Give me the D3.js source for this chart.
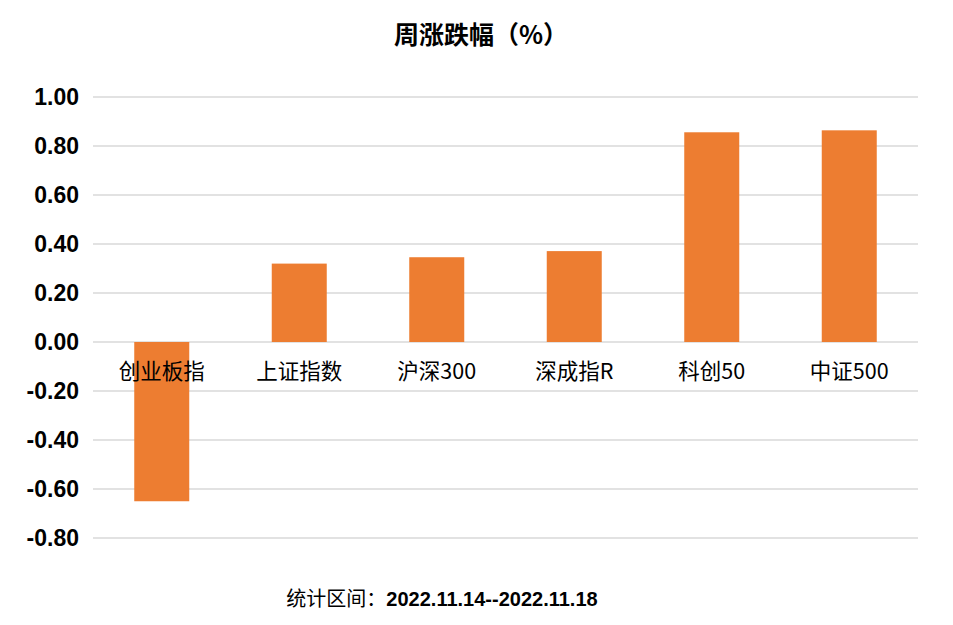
<!DOCTYPE html>
<html>
<head>
<meta charset="utf-8">
<script src="https://cdn.jsdelivr.net/npm/d3@7"></script>
<style>
  body { margin: 0; background: #fff; }
  svg { display: block; }
</style>
</head>
<body>
<svg id="chart"></svg>
<script>
const categories = ['创业板指', '上证指数', '沪深300', '深成指R', '科创50', '中证500'];
const weeklyChange = [-0.65, 0.32, 0.346, 0.371, 0.856, 0.864];
const yTicks = [-0.8, -0.6, -0.4, -0.2, 0, 0.2, 0.4, 0.6, 0.8, 1.0];
const chartTitle = '周涨跌幅（%）';
const periodLabel = '统计区间：';
const periodRange = '2022.11.14--2022.11.18';

const W = 953, H = 625;
const margin = { top: 97, right: 35, bottom: 87, left: 93 };
const width = W - margin.left - margin.right;
const height = H - margin.top - margin.bottom;

const svg = d3.select('#chart').attr('width', W).attr('height', H);
const g = svg.append('g').attr('transform', `translate(${margin.left},${margin.top})`);

const x = d3.scaleBand().domain(categories).range([0, width]).paddingInner(0.6).paddingOuter(0.3);
const y = d3.scaleLinear().domain([-0.8, 1.0]).range([height, 0]);

// gridlines
g.selectAll('line.grid')
  .data(yTicks)
  .enter().append('line')
  .attr('class', 'grid')
  .attr('x1', 0).attr('x2', width)
  .attr('y1', d => y(d)).attr('y2', d => y(d))
  .attr('stroke', '#d9d9d9').attr('stroke-width', 1.5);

// y axis labels (plain hyphen for negatives, like the source)
const fmt = d3.format('.2f');
const yAxis = d3.axisLeft(y).tickValues(yTicks)
  .tickFormat(d => fmt(d).replace('\u2212', '-'))
  .tickSize(0).tickPadding(14);
g.append('g').call(yAxis)
  .call(a => a.select('.domain').remove())
  .selectAll('text')
  .attr('font-family', '"Liberation Sans", Arial, sans-serif')
  .attr('font-weight', 'bold')
  .attr('font-size', 23)
  .attr('fill', '#000');

// bars
g.selectAll('rect.bar')
  .data(weeklyChange)
  .enter().append('rect')
  .attr('class', 'bar')
  .attr('x', (d, i) => x(categories[i]))
  .attr('width', x.bandwidth())
  .attr('y', d => y(Math.max(0, d)))
  .attr('height', d => Math.abs(y(d) - y(0)))
  .attr('fill', '#ed7d31');

// category labels just below zero line
g.selectAll('text.cat')
  .data(categories)
  .enter().append('text')
  .attr('class', 'cat')
  .attr('x', d => x(d) + x.bandwidth() / 2)
  .attr('y', y(0) + 37)
  .attr('text-anchor', 'middle')
  .attr('font-family', '"Noto Sans CJK SC", sans-serif')
  .attr('font-size', 21.5)
  .attr('fill', '#000')
  .text(d => d);

// title
svg.append('text')
  .attr('x', 481).attr('y', 44)
  .attr('text-anchor', 'middle')
  .attr('font-family', '"Noto Sans CJK SC", sans-serif')
  .attr('font-weight', 'bold')
  .attr('font-size', 25)
  .attr('fill', '#000')
  .text(chartTitle);

// footer
const foot = svg.append('text')
  .attr('x', 442).attr('y', 606)
  .attr('text-anchor', 'middle')
  .attr('fill', '#000')
  .attr('font-size', 20);
foot.append('tspan')
  .attr('font-family', '"Noto Sans CJK SC", sans-serif')
  .text(periodLabel);
foot.append('tspan')
  .attr('font-family', '"Liberation Sans", Arial, sans-serif')
  .attr('font-weight', 'bold')
  .text(periodRange);
</script>
</body>
</html>
